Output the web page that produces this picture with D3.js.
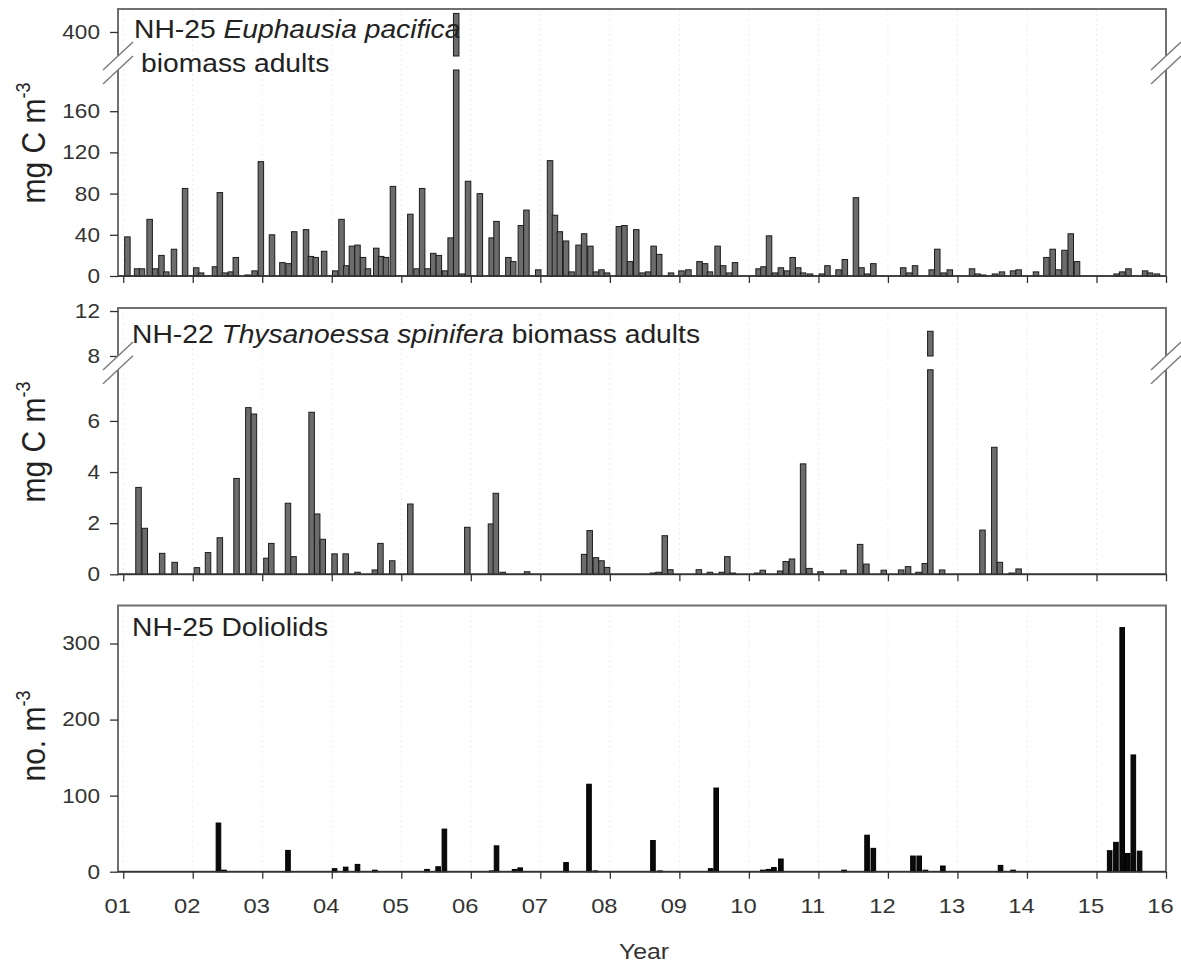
<!DOCTYPE html>
<html>
<head>
<meta charset="utf-8">
<script src="https://cdn.jsdelivr.net/npm/d3@7"></script>
<style>
body { margin: 0; background: #fff; }
svg { display: block; font-family: "Liberation Sans", Arial, sans-serif; }
</style>
</head>
<body>
<div id="chart"></div>
<script>
// DATA
// sample dates are decimal years
var yearTicks = d3.range(2001, 2017);
var yearLabels = ["01", "02", "03", "04", "05", "06", "07", "08", "09", "10", "11", "12", "13", "14", "15", "16"];

// NH-25 Euphausia pacifica biomass adults (mg C m-3)
var euphDates = [2001.06, 2001.20, 2001.27, 2001.38, 2001.46, 2001.55, 2001.62, 2001.73, 2001.89, 2002.05,
    2002.12, 2002.32, 2002.39, 2002.46, 2002.55, 2002.62, 2002.79, 2002.89, 2002.98, 2003.14,
    2003.29, 2003.38, 2003.46, 2003.63, 2003.70, 2003.77, 2003.89, 2004.05, 2004.14, 2004.21,
    2004.29, 2004.37, 2004.45, 2004.52, 2004.64, 2004.71, 2004.78, 2004.88, 2005.13, 2005.22,
    2005.30, 2005.38, 2005.46, 2005.54, 2005.63, 2005.71, 2005.79, 2005.87, 2005.96, 2006.13,
    2006.30, 2006.37, 2006.54, 2006.61, 2006.72, 2006.80, 2006.97, 2007.14, 2007.21, 2007.28,
    2007.37, 2007.45, 2007.55, 2007.63, 2007.72, 2007.80, 2007.88, 2007.96, 2008.13, 2008.21,
    2008.29, 2008.38, 2008.47, 2008.55, 2008.63, 2008.71, 2008.88, 2009.03, 2009.13, 2009.29,
    2009.37, 2009.44, 2009.55, 2009.63, 2009.72, 2009.80, 2010.14, 2010.21, 2010.29, 2010.38,
    2010.46, 2010.55, 2010.63, 2010.71, 2010.78, 2010.88, 2011.05, 2011.13, 2011.29, 2011.38,
    2011.54, 2011.62, 2011.70, 2011.79, 2012.22, 2012.31, 2012.39, 2012.63, 2012.71, 2012.80,
    2012.89, 2013.21, 2013.29, 2013.37, 2013.54, 2013.64, 2013.80, 2013.88, 2014.13, 2014.28,
    2014.37, 2014.45, 2014.54, 2014.63, 2014.72, 2015.29, 2015.37, 2015.46, 2015.70, 2015.77,
    2015.87];
var euphValues = [38, 7, 7, 55, 7, 20, 4, 26, 85, 8,
    3, 9, 81, 3, 4, 18, 1, 5, 111, 40,
    13, 12, 43, 45, 19, 18, 24, 5, 55, 10,
    29, 30, 18, 7, 27, 19, 18, 87, 60, 7,
    85, 7, 22, 20, 5, 37, 418, 2, 92, 80,
    37, 53, 18, 14, 49, 64, 6, 112, 59, 43,
    34, 4, 30, 41, 29, 4, 6, 3, 48, 49,
    14, 45, 3, 4, 29, 21, 3, 5, 6, 14,
    12, 4, 29, 10, 3, 13, 7, 9, 39, 3,
    8, 5, 18, 8, 3, 2, 2, 10, 6, 16,
    76, 8, 2, 12, 8, 3, 10, 6, 26, 3,
    6, 7, 2, 1, 2, 4, 5, 6, 4, 18,
    26, 6, 25, 41, 14, 2, 4, 7, 5, 3,
    2];
var euphLowTicks = [0, 40, 80, 120, 160];
var euphUpTicks = [400];

// NH-22 Thysanoessa spinifera biomass adults (mg C m-3)
var thysDates = [2001.22, 2001.31, 2001.56, 2001.74, 2002.06, 2002.22, 2002.39, 2002.63, 2002.80, 2002.88,
    2003.06, 2003.13, 2003.37, 2003.45, 2003.71, 2003.79, 2003.87, 2004.04, 2004.20, 2004.37,
    2004.62, 2004.70, 2004.87, 2005.13, 2005.95, 2006.29, 2006.36, 2006.46, 2006.81, 2007.63,
    2007.71, 2007.80, 2007.88, 2007.96, 2008.62, 2008.70, 2008.79, 2008.87, 2009.28, 2009.44,
    2009.61, 2009.69, 2009.77, 2010.12, 2010.20, 2010.45, 2010.53, 2010.62, 2010.78, 2010.87,
    2011.03, 2011.36, 2011.60, 2011.69, 2011.94, 2012.19, 2012.29, 2012.44, 2012.53, 2012.61,
    2012.78, 2013.36, 2013.53, 2013.61, 2013.78, 2013.88];
var thysValues = [3.4, 1.8, 0.82, 0.47, 0.26, 0.85, 1.43, 3.75, 6.52, 6.27,
    0.63, 1.21, 2.78, 0.69, 6.34, 2.36, 1.37, 0.8, 0.8, 0.08,
    0.17, 1.21, 0.53, 2.75, 1.84, 1.97, 3.17, 0.08, 0.1, 0.78,
    1.71, 0.65, 0.53, 0.27, 0.05, 0.08, 1.51, 0.18, 0.18, 0.08,
    0.08, 0.69, 0.05, 0.05, 0.16, 0.13, 0.5, 0.6, 4.32, 0.23,
    0.1, 0.16, 1.17, 0.4, 0.16, 0.17, 0.3, 0.08, 0.42, 10.2,
    0.17, 1.73, 4.97, 0.47, 0.05, 0.21];
var thysLowTicks = [0, 2, 4, 6];
var thysUpTicks = [8, 12];

// NH-25 Doliolids (no. m-3)
var dolioDates = [2002.37, 2002.45, 2003.37, 2004.04, 2004.20, 2004.37, 2004.62, 2005.37, 2005.53, 2005.62,
    2006.30, 2006.37, 2006.63, 2006.71, 2007.37, 2007.70, 2007.79, 2008.62, 2008.72, 2009.45,
    2009.53, 2010.20, 2010.28, 2010.36, 2010.46, 2011.37, 2011.70, 2011.79, 2012.36, 2012.45,
    2012.54, 2012.79, 2013.62, 2013.80, 2015.19, 2015.28, 2015.37, 2015.45, 2015.53, 2015.62];
var dolioValues = [64, 2, 28, 4, 6, 9.6, 2, 3, 6.5, 56,
    1, 34, 3, 5, 12, 115, 1, 41, 1, 4,
    110, 2, 3, 5.5, 16.7, 2, 48, 30.7, 20.6, 20.6,
    2, 7.5, 8.3, 2, 27.6, 38.6, 321, 24, 153.5, 27];
var dolioTicks = [0, 100, 200, 300];

// LAYOUT
var W = 1181, H = 966;
var frameL = 118, frameR = 1166;
// text in the picture is a little wider than plain Arial
var SX = 1.13;

var svg = d3.select("#chart").append("svg")
    .attr("width", W)
    .attr("height", H);

var x = d3.scaleLinear()
    .domain([2000.925, 2016])
    .range([frameL, frameR]);

var panels = [
    {
        top: 9, bottom: 276, dates: euphDates, values: euphValues,
        lowMax: 200, lowTop: 70, lowTicks: euphLowTicks,
        upDomain: [376.7, 422.3], upBottom: 56, upTicks: euphUpTicks,
        fill: "#6c6c6c", stroke: "#1c1c1c", bw: 5.5
    },
    {
        top: 308, bottom: 574.3, dates: thysDates, values: thysValues,
        lowMax: 8, lowTop: 369.8, lowTicks: thysLowTicks,
        upDomain: [8, 12.27], upBottom: 356, upTicks: thysUpTicks,
        fill: "#6c6c6c", stroke: "#1c1c1c", bw: 5.5
    },
    {
        top: 605.5, bottom: 871.7, dates: dolioDates, values: dolioValues,
        lowMax: 350, lowTop: 605.5, lowTicks: dolioTicks,
        fill: "#0a0a0a", stroke: "#000", bw: 4.6, years: true
    }
];

function styleTicks(sel, size) {
    sel.select(".domain").remove();
    sel.selectAll(".tick line").attr("stroke", "#333").attr("stroke-width", 1.3);
    sel.selectAll(".tick text")
        .attr("font-size", size)
        .attr("fill", "#333")
        .attr("font-family", "Liberation Sans, Arial, sans-serif");
}

// two slashes across an axis, with the axis hidden between them
function breakMask(g, cx, y1, y2) {
    g.append("polygon")
        .attr("points", [[cx - 16, y1 + 15], [cx + 16, y1 - 15], [cx + 16, y2 - 15], [cx - 16, y2 + 15]].join(" "))
        .attr("fill", "#fff");
}
function breakLines(g, cx, y1, y2) {
    [y1, y2].forEach(function (y) {
        g.append("line")
            .attr("x1", cx - 15).attr("y1", y + 14)
            .attr("x2", cx + 15).attr("y2", y - 14)
            .attr("stroke", "#7a7a7a")
            .attr("stroke-width", 1.4);
    });
}

panels.forEach(function (p) {
    var g = svg.append("g");
    var low = d3.scaleLinear().domain([0, p.lowMax]).range([p.bottom, p.lowTop]);
    var up = p.upDomain ? d3.scaleLinear().domain(p.upDomain).range([p.upBottom, p.top]) : null;

    // faint dotted year lines
    g.selectAll(".grid")
        .data(yearTicks.slice(0, -1))
        .enter()
        .append("line")
        .attr("x1", d => x(d)).attr("x2", d => x(d))
        .attr("y1", p.top).attr("y2", p.bottom)
        .attr("stroke", "#ececec")
        .attr("stroke-dasharray", "2,3");

    // frame
    g.append("rect")
        .attr("x", frameL).attr("y", p.top)
        .attr("width", frameR - frameL).attr("height", p.bottom - p.top)
        .attr("fill", "none")
        .attr("stroke", "#707070")
        .attr("stroke-width", 2);

    if (up) {
        breakMask(g, frameL, p.upBottom, p.lowTop);
        breakMask(g, frameR, p.upBottom, p.lowTop);
    }

    var data = p.dates.map((d, i) => ({ t: d, v: p.values[i] }));

    g.selectAll(".bar")
        .data(data)
        .enter()
        .append("rect")
        .attr("class", "bar")
        .attr("x", d => x(d.t) - p.bw / 2)
        .attr("width", p.bw)
        .attr("y", d => low(Math.min(d.v, p.lowMax)))
        .attr("height", d => Math.max(0.8, p.bottom - low(Math.min(d.v, p.lowMax))))
        .attr("fill", p.fill)
        .attr("stroke", p.stroke)
        .attr("stroke-width", 1);

    if (up) {
        g.selectAll(".barUp")
            .data(data.filter(d => d.v > p.lowMax))
            .enter()
            .append("rect")
            .attr("class", "barUp")
            .attr("x", d => x(d.t) - p.bw / 2)
            .attr("width", p.bw)
            .attr("y", d => up(Math.min(d.v, p.upDomain[1])))
            .attr("height", d => p.upBottom - up(Math.min(d.v, p.upDomain[1])))
            .attr("fill", p.fill)
            .attr("stroke", p.stroke)
            .attr("stroke-width", 1);
    }

    // bottom axis
    var ax = g.append("g")
        .attr("transform", "translate(0," + p.bottom + ")")
        .call(d3.axisBottom(x)
            .tickValues(yearTicks)
            .tickSize(7)
            .tickFormat(p.years ? (d, i) => yearLabels[i] : ""));
    styleTicks(ax, 21);
    ax.selectAll(".tick text")
        .attr("y", 0).attr("dy", null)
        .attr("transform", "translate(-6,41) scale(" + SX + ",1)");
    g.append("line")
        .attr("x1", frameL).attr("x2", frameR)
        .attr("y1", p.bottom).attr("y2", p.bottom)
        .attr("stroke", "#333")
        .attr("stroke-width", 1.6);

    // left axis, lower and upper parts
    var ay = g.append("g")
        .attr("transform", "translate(" + frameL + ",0)")
        .call(d3.axisLeft(low).tickValues(p.lowTicks).tickSize(8).tickFormat(d => d));
    styleTicks(ay, 20);
    ay.selectAll(".tick text").attr("x", 0).attr("transform", "translate(-18,0) scale(" + SX + ",1)");
    if (up) {
        var au = g.append("g")
            .attr("transform", "translate(" + frameL + ",0)")
            .call(d3.axisLeft(up).tickValues(p.upTicks).tickSize(8).tickFormat(d => d));
        styleTicks(au, 20);
        au.selectAll(".tick text").attr("x", 0).attr("transform", "translate(-18,0) scale(" + SX + ",1)");
        breakLines(g, frameL, p.upBottom, p.lowTop);
        breakLines(g, frameR, p.upBottom, p.lowTop);
    }
});

// panel titles
function title(xp, yp, parts) {
    var t = svg.append("text")
        .attr("transform", "translate(" + xp + "," + yp + ") scale(" + SX + ",1)")
        .attr("font-size", 25)
        .attr("fill", "#222");
    parts.forEach(function (s) {
        t.append("tspan").attr("font-style", s[1] ? "italic" : "normal").text(s[0]);
    });
}
title(134, 38, [["NH-25 ", false], ["Euphausia pacifica", true]]);
title(141, 72, [["biomass adults", false]]);
title(132, 343, [["NH-22 ", false], ["Thysanoessa spinifera", true], [" biomass adults", false]]);
title(132, 636, [["NH-25 Doliolids", false]]);

// y axis titles with superscript
function yTitle(cy, main) {
    var t = svg.append("text")
        .attr("transform", "translate(45," + cy + ") rotate(-90) scale(1," + SX + ")")
        .attr("text-anchor", "middle")
        .attr("font-size", 30)
        .attr("fill", "#222");
    t.append("tspan").text(main);
    t.append("tspan").attr("font-size", 18).attr("dy", -13).text("-3");
}
yTitle(143, "mg C m");
yTitle(442, "mg C m");
yTitle(736, "no. m");

svg.append("text")
    .attr("transform", "translate(644,959) scale(" + SX + ",1)")
    .attr("text-anchor", "middle")
    .attr("font-size", 22)
    .attr("fill", "#333")
    .text("Year");
</script>
</body>
</html>
